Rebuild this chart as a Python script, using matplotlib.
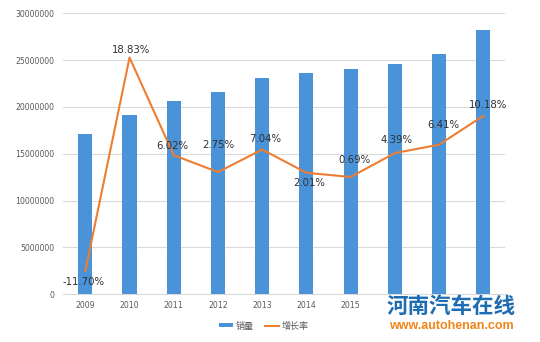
import matplotlib
matplotlib.use("Agg")
import matplotlib.pyplot as plt
from matplotlib.lines import Line2D
from matplotlib.patches import Patch

years = ["2009", "2010", "2011", "2012", "2013", "2014", "2015", "2016", "2017", "2018"]
sales = [17120000, 19150000, 20680000, 21610000, 23110000, 23640000, 24070000, 24600000, 25670000, 28240000]
growth_line = [-11.7, 18.7, 4.8, 2.4, 5.6, 2.3, 1.7, 5.1, 6.3, 10.4]
growth_labels = ["-11.70%", "18.83%", "6.02%", "2.75%", "7.04%", "2.01%", "0.69%", "4.39%", "6.41%", "10.18%"]
y_ticks = [0, 5000000, 10000000, 15000000, 20000000, 25000000, 30000000]

# label offsets in pixels (styling, not data)
label_offsets = [(-2, -11), (1, 8), (-2, 9), (0, 27), (3, 11), (3, -10), (4, 17), (1.5, 13), (4, 20), (5, 11)]

plt.rcParams['font.family'] = ['DejaVu Sans']
BLUE = "#4a93d9"
ORANGE = "#ed7d31"
GRID = "#d9d9d9"
TICK = "#595959"

fig = plt.figure(figsize=(5.4, 3.42), dpi=100)
L, R = 63.2 / 540, 505.4 / 540
B, T = (342 - 294.3) / 342, (342 - 13.3) / 342
ax = fig.add_axes([L, B, R - L, T - B])
x = list(range(len(years)))
ax.bar(x, sales, width=0.32, color=BLUE, zorder=2)
ax.set_xlim(-0.5, len(years) - 0.5)
ax.set_ylim(0, 30000000)
ax.set_yticks(y_ticks)
ax.set_yticklabels([str(v) for v in y_ticks])
ax.set_xticks(x)
ax.set_xticklabels(years)
ax.tick_params(axis='both', length=0, labelsize=5.6, colors=TICK)
ax.tick_params(axis='y', pad=6.5)
ax.tick_params(axis='x', pad=5)
ax.grid(axis='y', color=GRID, linewidth=0.75, zorder=0)
for s in ['top', 'right', 'left']:
    ax.spines[s].set_visible(False)
ax.spines['bottom'].set_color(GRID)
ax.spines['bottom'].set_linewidth(0.75)

ax2 = ax.twinx()
ax2.set_ylim(-15, 25)
ax2.plot(x, growth_line, color=ORANGE, linewidth=1.5, zorder=3)
ax2.axis('off')
for xi, yi, lab, off in zip(x, growth_line, growth_labels, label_offsets):
    ax2.annotate(lab, (xi, yi), xytext=off, textcoords='offset pixels',
                 ha='center', va='center', fontsize=7.3, color="#303030")

handles = [Patch(facecolor=BLUE, edgecolor='none'),
           Line2D([0], [0], color=ORANGE, linewidth=1.5)]
leg = fig.legend(handles, ["销量", "增长率"], loc='center', bbox_to_anchor=(264 / 540, 1 - 326 / 342),
                 ncol=2, frameon=False, handlelength=1.6, handleheight=0.35, handletextpad=0.3,
                 columnspacing=1.2,
                 prop={'family': ['Noto Sans CJK SC', 'DejaVu Sans'], 'size': 6.5})
for t in leg.get_texts():
    t.set_color(TICK)

# white panel behind the watermark
fig.patches.append(plt.Rectangle((384 / 540, 2 / 342), 136 / 540, (342 - 296 - 2) / 342,
                                 transform=fig.transFigure, facecolor='white', edgecolor='none', zorder=5))
fig.text(451 / 540, 1 - 306 / 342, "河南汽车在线", ha='center', va='center', fontsize=15.5,
         fontweight='black', color="#1e6db3", family=['Noto Sans CJK SC', 'DejaVu Sans'], zorder=6)
fig.text(451 / 540, 1 - 326 / 342, "www.autohenan.com", ha='center', va='center', fontsize=9,
         fontweight='bold', color="#f08519", family=['Liberation Sans', 'DejaVu Sans'], zorder=6)

fig.savefig("out.png", dpi=100)
